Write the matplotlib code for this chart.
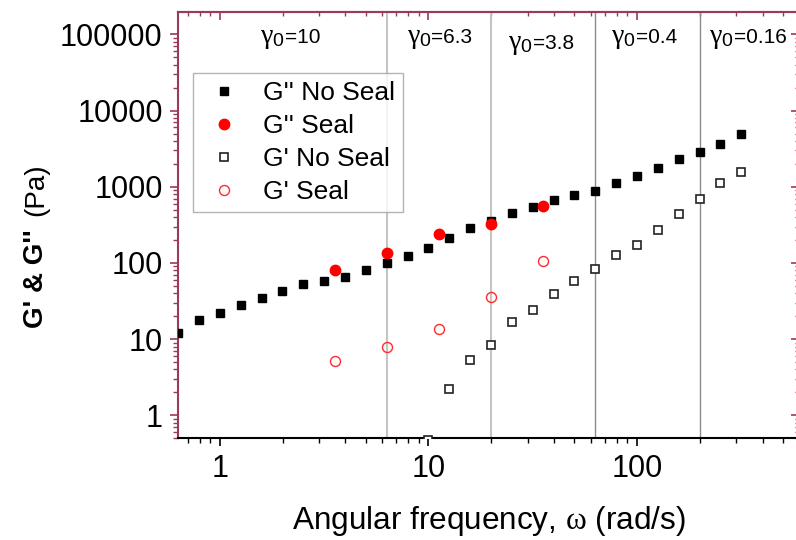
import matplotlib
matplotlib.use('Agg')
import matplotlib.pyplot as plt
from matplotlib.ticker import FixedLocator, LogLocator, NullFormatter, FuncFormatter
from matplotlib.offsetbox import TextArea, HPacker, AnnotationBbox

plt.rcParams['font.family'] = ['Liberation Sans', 'DejaVu Sans']
plt.rcParams['mathtext.fontset'] = 'custom'
plt.rcParams['mathtext.rm'] = 'Liberation Sans'
plt.rcParams['mathtext.it'] = 'Liberation Serif'

# angular frequency (rad/s) for the "No Seal" sweeps
omega = [0.631, 0.794, 1.0, 1.259, 1.585, 1.995, 2.512, 3.162, 3.981, 5.012,
         6.31, 7.943, 10.0, 12.59, 15.85, 19.95, 25.12, 31.62, 39.81, 50.12,
         63.1, 79.43, 100.0, 125.9, 158.5, 199.5, 251.2, 316.2]
g2_noseal = [12.0, 17.6, 22.0, 27.8, 34.6, 43.3, 52.9, 57.9, 64.7, 81.7,
             98.8, 122, 157, 212, 291, 355, 448, 542, 669, 788,
             889, 1108, 1399, 1759, 2289, 2853, 3678, 4872]

omega_g1 = [10.0, 12.59, 15.85, 19.95, 25.12, 31.62, 39.81, 50.12, 63.1,
            79.43, 100.0, 125.9, 158.5, 199.5, 251.2, 316.2]
g1_noseal = [0.48, 2.19, 5.27, 8.29, 16.8, 24.4, 38.7, 57.4, 83.2,
             126, 174, 268, 438, 690, 1108, 1545]

omega_seal = [3.55, 6.31, 11.2, 19.95, 35.5]
g2_seal = [81.7, 135, 237, 321, 553]
g1_seal = [5.11, 7.88, 13.7, 35.7, 105]

# strain amplitude regions
gamma_lines = [6.31, 20.0, 63.1, 200.0]
gamma_labels = ['10', '6.3', '3.8', '0.4', '0.16']
gamma_x = [2.18, 11.3, 34.7, 108, 222]

maroon = '#9a3a5a'

fig = plt.figure(figsize=(7.96, 5.4), dpi=100)
ax = fig.add_axes([0.2236, 0.1883, 0.7805, 0.789])
ax.set_xscale('log')
ax.set_yscale('log')
ax.set_xlim(0.63, 600)
ax.set_ylim(0.5, 1.95e5)

for i, xv in enumerate(gamma_lines):
    if i < 2:
        ax.axvline(xv, color='#c4c4c4', lw=1.5, zorder=1)
    else:
        ax.axvline(xv, color='#8c8c8c', lw=1.0, zorder=1)

ax.plot(omega, g2_noseal, 's', color='black', ms=6.2, ls='none', label="G'' No Seal", zorder=3)
ax.plot(omega_seal, g2_seal, 'o', color='red', ms=7.5, ls='none', label="G'' Seal", zorder=4)
ax.plot(omega_g1, g1_noseal, 's', mfc='white', mec='#222222', mew=1.2, ms=6.2, ls='none',
        label="G' No Seal", zorder=3)
ax.plot(omega_seal, g1_seal, 'o', mfc='none', mec='#ff2a2a', mew=1.0, ms=7.2, ls='none',
        label="G' Seal", zorder=4)

trans = ax.get_xaxis_transform()
for lab, xv in zip(gamma_labels, gamma_x):
    yv = 0.928 if lab == '3.8' else 0.942
    box = HPacker(children=[TextArea(r'$\gamma_0$', textprops=dict(fontsize=20)),
                            TextArea('=' + lab, textprops=dict(fontsize=15))],
                  align='baseline', pad=0, sep=0)
    bx = 0.0 if lab == '0.16' else 0.5
    ab = AnnotationBbox(box, (xv, yv), xycoords=trans, frameon=False,
                        box_alignment=(bx, 0.5), pad=0)
    ax.add_artist(ab)

# ticks
fmt = FuncFormatter(lambda v, p: '%d' % v)
ax.xaxis.set_major_locator(FixedLocator([1, 10, 100]))
ax.xaxis.set_major_formatter(fmt)
ax.xaxis.set_minor_locator(LogLocator(base=10, subs=range(2, 10), numticks=20))
ax.xaxis.set_minor_formatter(NullFormatter())
ax.yaxis.set_major_locator(FixedLocator([1, 10, 100, 1000, 10000, 100000]))
ax.yaxis.set_major_formatter(fmt)
ax.yaxis.set_minor_locator(LogLocator(base=10, subs=range(2, 10), numticks=20))
ax.yaxis.set_minor_formatter(NullFormatter())

ax.tick_params(axis='both', which='major', labelsize=22, length=6, width=1.2, pad=5, direction='out')
ax.tick_params(axis='both', which='minor', length=3.5, width=1.0, direction='out')
ax.tick_params(axis='y', which='both', color=maroon)

for side in ['left', 'top', 'right']:
    ax.spines[side].set_color(maroon)
for side in ax.spines:
    ax.spines[side].set_linewidth(1.5)

top = ax.secondary_xaxis('top')
top.xaxis.set_major_locator(FixedLocator([1, 10, 100]))
top.xaxis.set_minor_locator(LogLocator(base=10, subs=range(2, 10), numticks=20))
top.tick_params(which='major', direction='in', length=5.5, width=1.2, color=maroon, labeltop=False)
top.tick_params(which='minor', direction='in', length=3, width=1.0, color=maroon)
top.xaxis.set_minor_formatter(NullFormatter())
top.spines['top'].set_color(maroon)
top.spines['top'].set_linewidth(1.5)

right = ax.secondary_yaxis('right')
right.yaxis.set_major_locator(FixedLocator([1, 10, 100, 1000, 10000, 100000]))
right.yaxis.set_minor_locator(LogLocator(base=10, subs=range(2, 10), numticks=20))
right.tick_params(which='major', direction='in', length=5.5, width=1.2, color=maroon, labelright=False)
right.tick_params(which='minor', direction='in', length=3, width=1.0, color=maroon)
right.yaxis.set_minor_formatter(NullFormatter())
right.spines['right'].set_color(maroon)
right.spines['right'].set_linewidth(1.5)

ax.set_xlabel(r'Angular frequency, $\omega$ (rad/s)', fontsize=22.7, labelpad=15)

fig.text(0.0452, 0.3926, "G' & G''", rotation=90, ha='center', va='bottom',
         fontsize=20, fontweight='bold')
fig.text(0.0452, 0.698, "(Pa)", rotation=90, ha='center', va='top', fontsize=20)

leg = ax.legend(loc='upper left', bbox_to_anchor=(0.0237, 0.8565), fontsize=19,
                frameon=True, fancybox=False, handlelength=1.8, handletextpad=0.55,
                borderpad=0.3, labelspacing=0.34, borderaxespad=0)
leg.get_frame().set_edgecolor('#a0a0a0')
leg.get_frame().set_linewidth(1.0)

fig.savefig('out.png', dpi=100)
